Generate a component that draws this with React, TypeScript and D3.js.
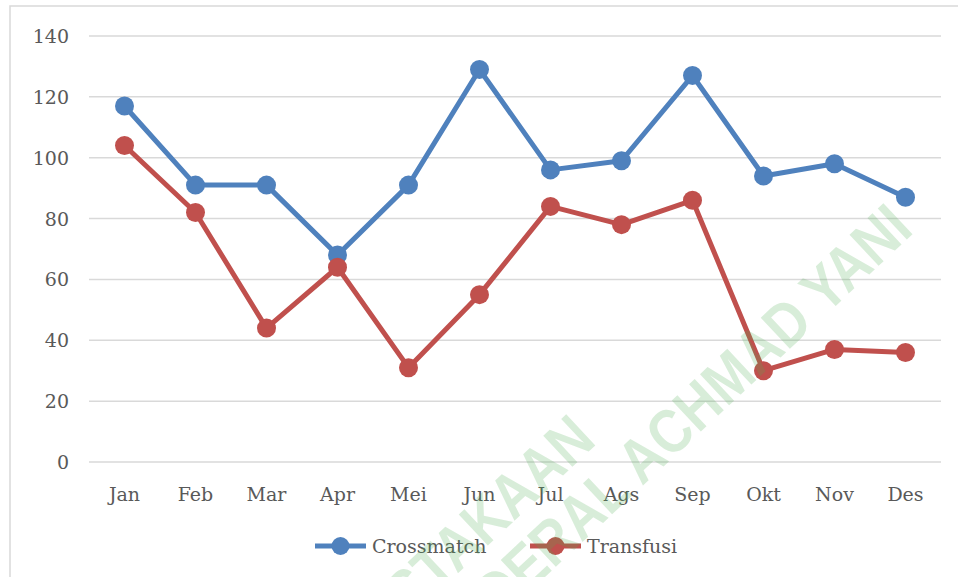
import React from 'react';
import * as d3 from 'd3';

// months on the x axis
const months = ['Jan', 'Feb', 'Mar', 'Apr', 'Mei', 'Jun', 'Jul', 'Ags', 'Sep', 'Okt', 'Nov', 'Des'];
const crossmatch = [117, 91, 91, 68, 91, 129, 96, 99, 127, 94, 98, 87];
const transfusi = [104, 82, 44, 64, 31, 55, 84, 78, 86, 30, 37, 36];
const yTicks = [0, 20, 40, 60, 80, 100, 120, 140];

const series = [
  { name: 'Crossmatch', values: crossmatch, color: '#4F81BD' },
  { name: 'Transfusi', values: transfusi, color: '#C0504D' },
];

const W = 958;
const H = 577;
const font = '"DejaVu Serif", serif';

export default function App() {
  const x = d3.scaleBand<string>().domain(months).range([89, 941]);
  const y = d3.scaleLinear().domain([0, 140]).range([462, 36]);
  const cx = (m: string) => (x(m) as number) + x.bandwidth() / 2;

  const line = d3.line<number>()
    .x((_, i) => cx(months[i]))
    .y((d) => y(d));

  return (
    <div style={{ position: 'fixed', left: 0, top: 0 }}>
      <svg width={W} height={H} style={{ display: 'block', background: '#fff' }}>
        {/* outer chart frame */}
        <rect x={10} y={6} width={W + 20} height={H + 20} fill="none" stroke="#d9d9d9" strokeWidth={1.5} />

        {/* gridlines + y labels */}
        {yTicks.map((t) => (
          <g key={t}>
            <line x1={89} x2={941} y1={y(t)} y2={y(t)} stroke="#d9d9d9" strokeWidth={1.5} />
            <text x={69} y={y(t) + 7} textAnchor="end" fontFamily={font} fontSize={19} fill="#595959">{t}</text>
          </g>
        ))}

        {/* x labels */}
        {months.map((m) => (
          <text key={m} x={cx(m)} y={501} textAnchor="middle" fontFamily={font} fontSize={19} fill="#595959">{m}</text>
        ))}

        {/* series */}
        {series.map((s) => (
          <g key={s.name}>
            <path d={line(s.values) || ''} fill="none" stroke={s.color} strokeWidth={5} strokeLinejoin="round" />
            {s.values.map((v, i) => (
              <circle key={i} cx={cx(months[i])} cy={y(v)} r={9.5} fill={s.color} />
            ))}
          </g>
        ))}

        {/* legend */}
        {series.map((s, i) => {
          const lx = i === 0 ? 315 : 530;
          return (
            <g key={s.name}>
              <line x1={lx} x2={lx + 51} y1={546} y2={546} stroke={s.color} strokeWidth={5} />
              <circle cx={lx + 25.5} cy={546} r={9} fill={s.color} />
              <text x={lx + 57} y={553} fontFamily={font} fontSize={19} fill="#595959">{s.name}</text>
            </g>
          );
        })}

        {/* watermark */}
        <g transform="translate(915,232) rotate(-43) scale(0.86,1)" fontFamily='"Liberation Sans", sans-serif' fontWeight="bold" fontSize={62} fill="rgb(76,175,80)" fillOpacity={0.22}>
          <text x={-437} y={-62} textAnchor="end">PERPUSTAKAAN</text>
          <text x={0} y={0} textAnchor="end">JENDERAL ACHMAD YANI</text>
        </g>
      </svg>
    </div>
  );
}
